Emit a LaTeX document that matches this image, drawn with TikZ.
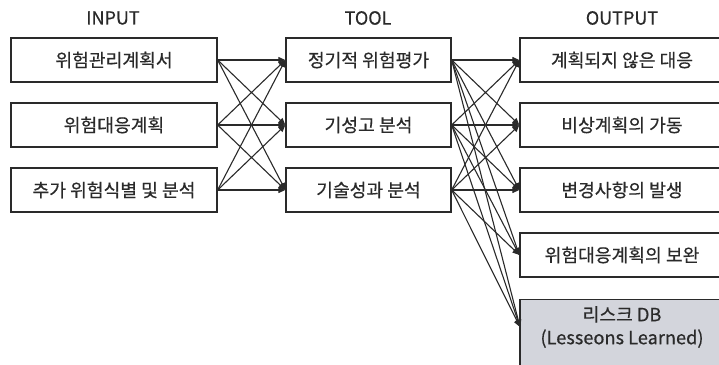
\documentclass[tikz,border=0pt]{standalone}
\usepackage{fontspec}
\setmainfont{Noto Sans CJK KR}[FakeBold=0.5]
\usetikzlibrary{arrows.meta}
\definecolor{ink}{HTML}{2A2A2A}
\definecolor{dbfill}{HTML}{D3D5DC}
\begin{document}
\begin{tikzpicture}[x=1pt,y=-1pt,
  box/.style={draw=ink,line width=1.3pt,rectangle,minimum height=44pt,inner sep=0pt,text=ink,font=\fontsize{18.2}{21}\selectfont},
  hdr/.style={text=ink,font=\fontsize{18}{21}\selectfont,inner sep=0pt},
  conn/.style={draw=ink,line width=1.1pt,-{Triangle[length=7pt,width=6pt]}}]
\useasboundingbox (0,0) rectangle (719,364);
\clip (0,0) rectangle (719,364);
% headers
\node[hdr] (hin) at (113,18) {INPUT};
\node[hdr] (htool) at (368,18) {TOOL};
\node[hdr] (hout) at (622,18) {OUTPUT};
% input
\node[box,minimum width=206pt] (i1) at (114,60) {위험관리계획서};
\node[box,minimum width=206pt] (i2) at (114,125) {위험대응계획};
\node[box,minimum width=206pt] (i3) at (114,190) {추가 위험식별 및 분석};
% tool
\node[box,minimum width=165pt] (t1) at (368.5,60) {정기적 위험평가};
\node[box,minimum width=165pt] (t2) at (368.5,125) {기성고 분석};
\node[box,minimum width=165pt] (t3) at (368.5,190) {기술성과 분석};
% output
\node[box,minimum width=204pt] (o1) at (622,60) {계획되지 않은 대응};
\node[box,minimum width=204pt] (o2) at (622,125) {비상계획의 가동};
\node[box,minimum width=204pt] (o3) at (622,190) {변경사항의 발생};
\node[box,minimum width=204pt] (o4) at (622,255) {위험대응계획의 보완};
\node[box,minimum width=204pt,minimum height=80pt,fill=dbfill,anchor=north] (o5) at (622,299) {};
\node[text=ink,font=\fontsize{18.2}{23}\selectfont,align=center,inner sep=0pt] (o5t) at (622,327) {리스크 DB\\(Lesseons Learned)};
\coordinate (o5in) at (520,327);
% connectors input -> tool
\foreach \s in {1,2,3}{
  \foreach \t in {1,2,3}{
    \draw[conn] (i\s.east) -- (t\t.west);
  }
}
% connectors tool -> output
\foreach \s in {1,2,3}{
  \foreach \t in {1,2,3,4}{
    \draw[conn] (t\s.east) -- (o\t.west);
  }
  \draw[conn] (t\s.east) -- (o5in);
}
\end{tikzpicture}
\end{document}
